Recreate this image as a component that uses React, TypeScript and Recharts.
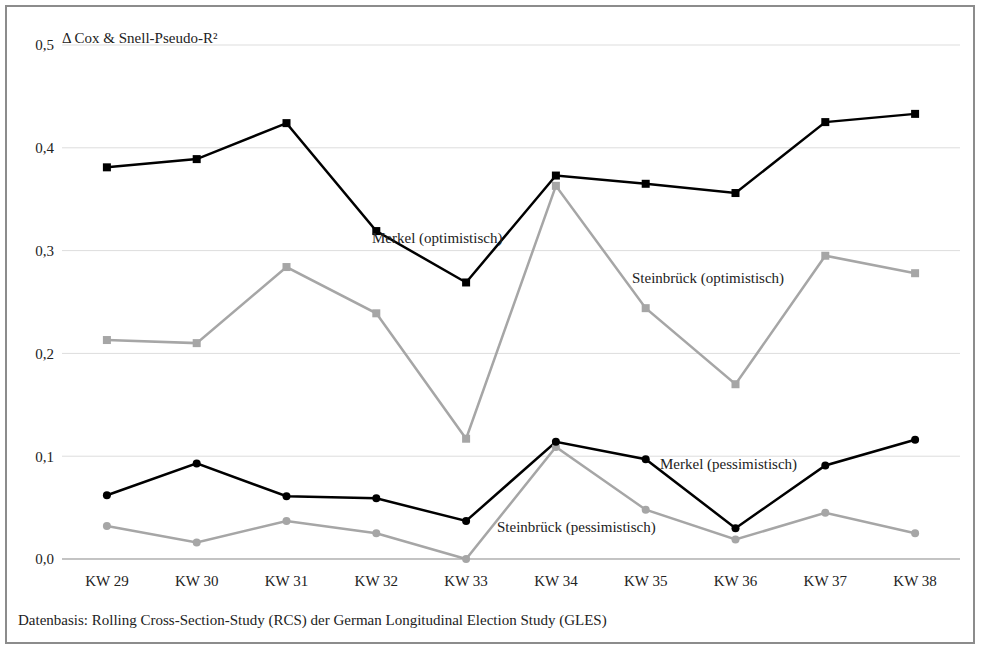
import React from "react";
import { LineChart, Line, XAxis, YAxis, CartesianGrid } from "recharts";

const weeks = ["KW 29", "KW 30", "KW 31", "KW 32", "KW 33", "KW 34", "KW 35", "KW 36", "KW 37", "KW 38"];
const merkelOpt = [0.381, 0.389, 0.424, 0.319, 0.269, 0.373, 0.365, 0.356, 0.425, 0.433];
const steinOpt = [0.213, 0.21, 0.284, 0.239, 0.117, 0.363, 0.244, 0.17, 0.295, 0.278];
const merkelPess = [0.062, 0.093, 0.061, 0.059, 0.037, 0.114, 0.097, 0.03, 0.091, 0.116];
const steinPess = [0.032, 0.016, 0.037, 0.025, 0.0, 0.109, 0.048, 0.019, 0.045, 0.025];
const yTicks = [0, 0.1, 0.2, 0.3, 0.4, 0.5];

const data = weeks.map((w, i) => ({
  week: w,
  mo: merkelOpt[i],
  so: steinOpt[i],
  mp: merkelPess[i],
  sp: steinPess[i],
}));

const font = "'Liberation Serif', 'Times New Roman', serif";

const Square = (color: string) => (props: any) => {
  const { cx, cy, index } = props;
  return <rect key={index} x={cx - 4} y={cy - 4} width={8} height={8} fill={color} />;
};
const Circle = (color: string) => (props: any) => {
  const { cx, cy, index } = props;
  return <circle key={index} cx={cx} cy={cy} r={4} fill={color} />;
};

const label = (text: string, left: number, top: number) => (
  <div style={{ position: "absolute", left, top, fontSize: 15, color: "#222", lineHeight: "18px" }}>
    {text}
  </div>
);

export default function App() {
  return (
    <div style={{ position: "fixed", left: 0, top: 0, width: 981, height: 649, background: "white", fontFamily: font }}>
      <div style={{ position: "absolute", left: 0, top: 0 }}>
        <LineChart width={981} height={600} data={data} margin={{ top: 45, right: 21, left: 0, bottom: 1 }}>
          <CartesianGrid vertical={false} stroke="#ddd" />
          <XAxis dataKey="week" scale="band" height={40} tickLine={false} stroke="#999"
            tick={{ fill: "#222", fontSize: 15, fontFamily: font }} tickMargin={10} />
          <YAxis domain={[0, 0.5]} ticks={yTicks} width={62} tickLine={false} axisLine={false}
            tickFormatter={(v: number) => v.toFixed(1).replace(".", ",")}
            tick={{ fill: "#222", fontSize: 15, fontFamily: font }} />
          <Line dataKey="so" stroke="#a6a6a6" strokeWidth={2.5} dot={Square("#a6a6a6")} isAnimationActive={false} />
          <Line dataKey="sp" stroke="#a6a6a6" strokeWidth={2.5} dot={Circle("#a6a6a6")} isAnimationActive={false} />
          <Line dataKey="mo" stroke="#000" strokeWidth={2.5} dot={Square("#000")} isAnimationActive={false} />
          <Line dataKey="mp" stroke="#000" strokeWidth={2.5} dot={Circle("#000")} isAnimationActive={false} />
        </LineChart>
      </div>
      <div style={{ position: "absolute", left: 5, top: 5, width: 970, height: 639, border: "2px solid #8c8c8c", boxSizing: "border-box", pointerEvents: "none", zIndex: 5 }} />
      <div style={{ position: "absolute", left: 62, top: 30, fontSize: 15, color: "#222" }}>
        Δ Cox &amp; Snell-Pseudo-R²
      </div>
      {label("Merkel (optimistisch)", 372, 229)}
      {label("Steinbrück (optimistisch)", 632, 269)}
      {label("Merkel (pessimistisch)", 660, 455)}
      {label("Steinbrück (pessimistisch)", 497, 518)}
      <div style={{ position: "absolute", left: 18, top: 612, fontSize: 15, color: "#222" }}>
        Datenbasis: Rolling Cross-Section-Study (RCS) der German Longitudinal Election Study (GLES)
      </div>
    </div>
  );
}
